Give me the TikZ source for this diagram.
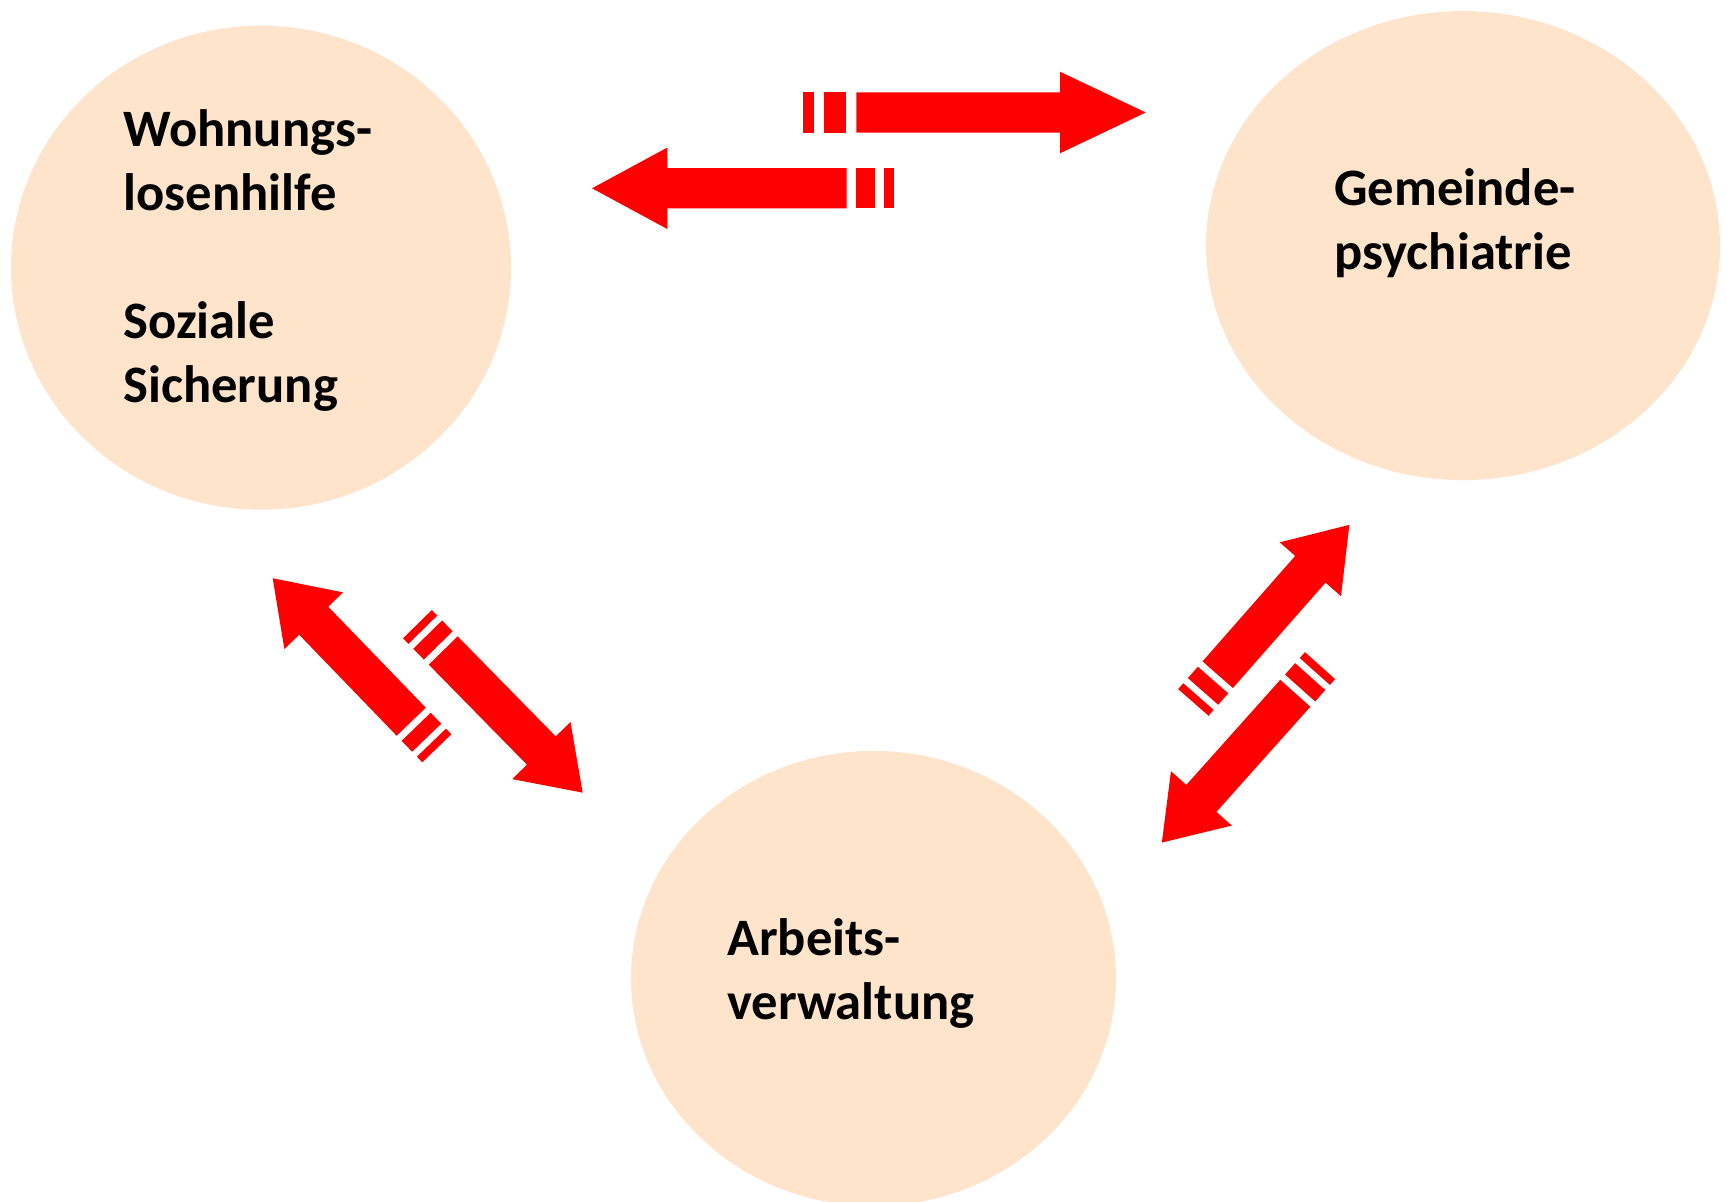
\documentclass[tikz,border=0pt]{standalone}
\usepackage{fontspec}
\setmainfont{Carlito}
\usetikzlibrary{shapes.geometric}
\definecolor{peach}{HTML}{FFE4CC}
\definecolor{arrowred}{HTML}{FF0000}
% striped arrow: #1 name, #2 x, #3 y (shaft start), #4 angle, #5 length scale
\newcommand\stripedarrow[5]{%
  \begin{scope}[shift={(#2,#3)}, rotate=#4, xscale=#5]
    \coordinate (#1) at (0,0);
    \fill[arrowred] (-53.6,-20.2) rectangle (-42.3,20.2);
    \fill[arrowred] (-32.3,-20.2) rectangle (-10.3,20.2);
    \fill[arrowred] (0,-20.2) -- (203.7,-20.2) -- (203.7,-40.8) -- (289.4,0)
      -- (203.7,40.8) -- (203.7,20.2) -- (0,20.2) -- cycle;
  \end{scope}}
\begin{document}
\begin{tikzpicture}[x=0.5pt,y=-0.5pt,
  blob/.style={ellipse, fill=peach, draw=none, inner sep=0pt},
  lbl/.style={anchor=base west, inner sep=0pt, align=left,
    font=\fontsize{26.3pt}{32pt}\selectfont\bfseries}]
\useasboundingbox (0,0) rectangle (1727,1202);
\fill[white] (0,0) rectangle (1727,1202);

% circles
\node[blob, minimum width=250pt, minimum height=242pt] (wh) at (261,267.7) {};
\node[blob, minimum width=257pt, minimum height=234.5pt] (gp) at (1463,245.6) {};
\node[blob, minimum width=242.5pt, minimum height=227.5pt] (av) at (873.5,978.4) {};

% labels (anchored at the baseline of the last line)
\node[lbl] (twh) at (123,403) {Wohnungs-\\losenhilfe\\[32pt]Soziale\\Sicherung};
\node[lbl] (tgp) at (1334,270) {Gemeinde-\\psychiatrie};
\node[lbl] (tav) at (727,1019) {Arbeits-\\verwaltung};

% arrows
\stripedarrow{a1}{856.3}{112.5}{0}{1}
\stripedarrow{a2}{846.7}{188.3}{180}{0.88}
\stripedarrow{a3}{411.2}{721.7}{134.0}{0.689}
\stripedarrow{a4}{443.2}{650.5}{-45.55}{0.688}
\stripedarrow{a5}{1217.7}{674.7}{48.7}{0.689}
\stripedarrow{a6}{1295.3}{693.3}{-131.8}{0.692}
\end{tikzpicture}
\end{document}
